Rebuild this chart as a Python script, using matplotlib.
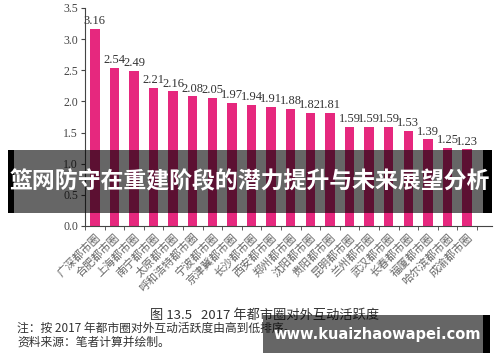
import numpy as np
import matplotlib
matplotlib.use("Agg")
import matplotlib.pyplot as plt
from matplotlib.patches import Rectangle

plt.rcParams['font.family'] = ['Noto Sans CJK SC', 'DejaVu Sans']

regions = ["广深都市圈", "合肥都市圈", "上海都市圈", "南宁都市圈", "太原都市圈",
           "呼和浩特都市圈", "宁波都市圈", "京津冀都市圈", "长沙都市圈", "西安都市圈",
           "郑州都市圈", "沈阳都市圈", "贵阳都市圈", "昆明都市圈", "兰州都市圈",
           "武汉都市圈", "长春都市圈", "福厦都市圈", "哈尔滨都市圈", "成渝都市圈"]
activity = [3.16, 2.54, 2.49, 2.21, 2.16, 2.08, 2.05, 1.97, 1.94, 1.91,
            1.88, 1.82, 1.81, 1.59, 1.59, 1.59, 1.53, 1.39, 1.25, 1.23]
yticks = [0.0, 0.5, 1.0, 1.5, 2.0, 2.5, 3.0, 3.5]

W, H = 500, 362
fig = plt.figure(figsize=(5, 3.62), dpi=100)

def fx(px):
    return px / W

def fy(py):
    return 1 - py / H

ax = fig.add_axes([fx(85), fy(226), fx(492) - fx(85), fy(8) - fy(226)])
x = np.arange(len(regions))
ax.bar(x, activity, width=0.48, color='#e6287e', zorder=2)
for xi, v in zip(x, activity):
    ax.text(xi, v + 0.03, f"{v:.2f}", ha='center', va='bottom', fontsize=9,
            family='Liberation Serif', color='#333333')

ax.set_xlim(-0.5, 20.27)
ax.set_ylim(0, 3.5)
ax.set_yticks(yticks)
ax.set_yticklabels([f"{t:.1f}" for t in yticks], family='Liberation Serif',
                   fontsize=8.5, color='#444444')
ax.set_xticks(x)
ax.set_xticklabels(regions, rotation=45, ha='right', rotation_mode='anchor',
                   fontsize=8, color='#666666')
ax.tick_params(axis='x', which='major', length=0, pad=4)
ax.set_xticks(np.arange(-0.5, 20, 1.0), minor=True)
ax.tick_params(axis='x', which='minor', length=3, color='#444444')
ax.tick_params(axis='y', length=3, color='#444444', pad=2)
for s in ['top', 'right']:
    ax.spines[s].set_visible(False)
for s in ['left', 'bottom']:
    ax.spines[s].set_color('#444444')
    ax.spines[s].set_linewidth(0.8)

fig.text(fx(265), fy(315), "图 13.5   2017 年都市圈对外互动活跃度", ha='center',
         va='center', fontsize=9.5, color='#333333')
fig.text(fx(17), fy(328), "注：按 2017 年都市圈对外互动活跃度由高到低排序。", ha='left',
         va='center', fontsize=8.5, color='#333333')
fig.text(fx(17), fy(342), "资料来源：笔者计算并绘制。", ha='left',
         va='center', fontsize=8.5, color='#333333')

# overlay banner
fig.patches.append(Rectangle((fx(14), fy(213)), fx(483) - fx(14), fy(150) - fy(213),
                             transform=fig.transFigure, color='black', alpha=0.6,
                             lw=0, zorder=10))
for a, b in [(8, 14), (483, 492)]:
    fig.patches.append(Rectangle((fx(a), fy(213)), fx(b) - fx(a), fy(150) - fy(213),
                                 transform=fig.transFigure, color='black', lw=0, zorder=10))
fig.text(fx(250), fy(182), "篮网防守在重建阶段的潜力提升与未来展望分析", ha='center',
         va='center', fontsize=16.5, fontweight='bold', color='white', zorder=11)

# watermark box
fig.patches.append(Rectangle((fx(263), fy(353)), fx(483) - fx(263), fy(315) - fy(353),
                             transform=fig.transFigure, color='black', alpha=0.6,
                             lw=0, zorder=10))
fig.patches.append(Rectangle((fx(483), fy(353)), fx(490) - fx(483), fy(315) - fy(353),
                             transform=fig.transFigure, color='black', lw=0, zorder=10))
fig.text(fx(377), fy(334), "www.kuaizhaowapei.com", ha='center', va='center',
         fontsize=10.5, fontweight='bold', family='DejaVu Sans', color='white', zorder=11)

fig.savefig("out.png", dpi=100)
